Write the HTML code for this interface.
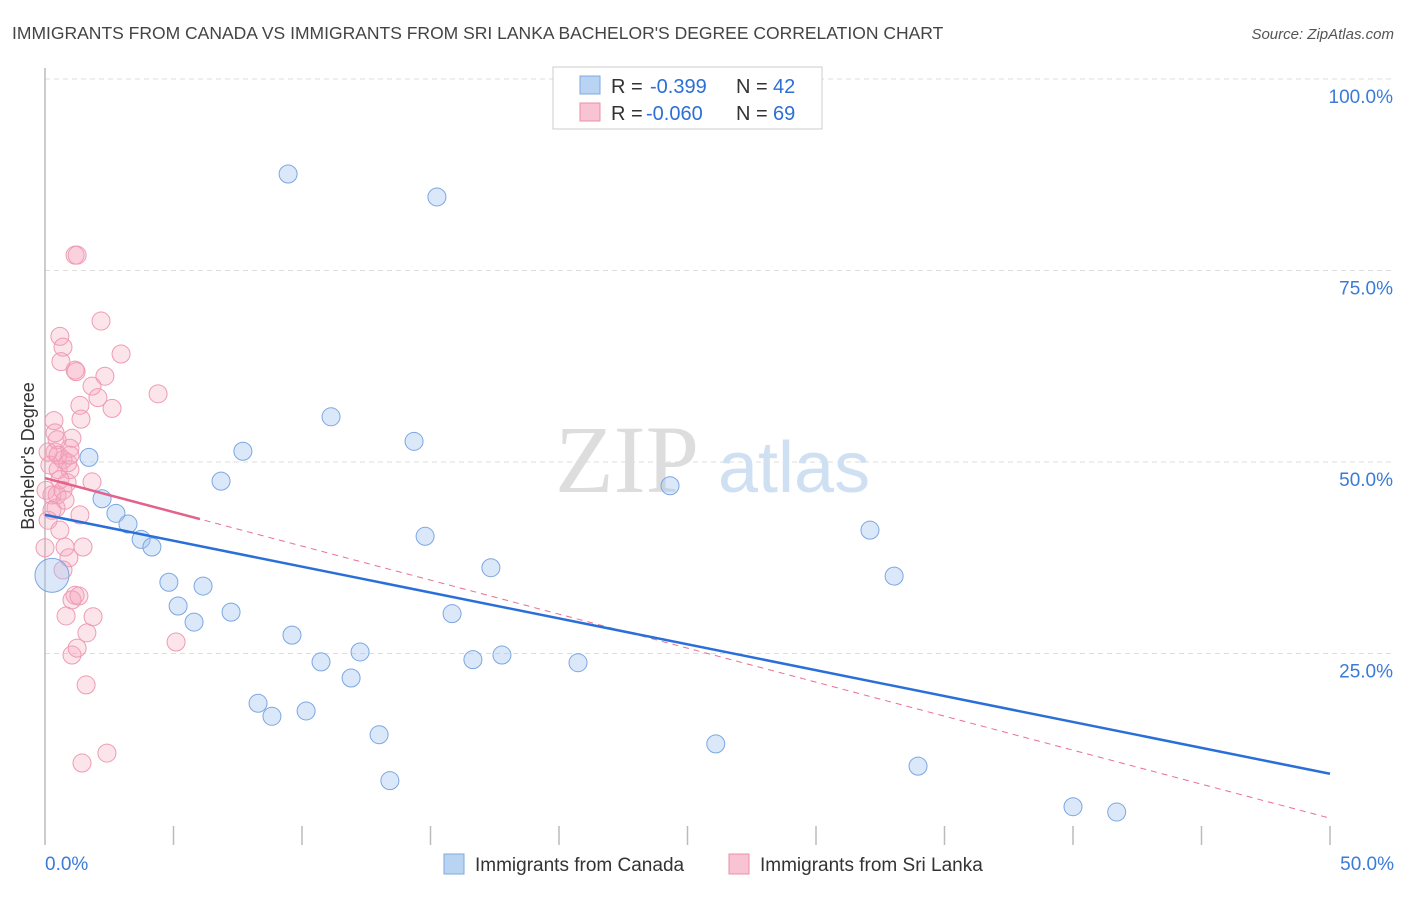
<!DOCTYPE html>
<html><head><meta charset="utf-8"><style>
body{margin:0;background:#fff;font-family:"Liberation Sans",sans-serif;}
</style></head><body>
<svg id="chart" width="1406" height="892" xmlns="http://www.w3.org/2000/svg" font-family="Liberation Sans, sans-serif">
<text x="12" y="39" font-size="17.5" fill="#444">IMMIGRANTS FROM CANADA VS IMMIGRANTS FROM SRI LANKA BACHELOR'S DEGREE CORRELATION CHART</text>
<text x="1394" y="39" font-size="15" fill="#555" font-style="italic" text-anchor="end">Source: ZipAtlas.com</text>
<g id="grid"></g>
<text x="555" y="492" font-size="96" fill="#ddd" font-family="Liberation Serif, serif">ZIP</text>
<text x="718" y="492" font-size="72" fill="#cfe0f3">atlas</text>
<line x1="45" y1="68" x2="45" y2="845" stroke="#bbb" stroke-width="1.5"/>
<text transform="translate(34,456) rotate(-90)" font-size="18" fill="#333" text-anchor="middle">Bachelor's Degree</text>
<g id="pts"></g>
<g id="lines"></g>
<g>
<rect x="553" y="67" width="269" height="62" fill="#fff" stroke="#ccc"/>
<rect x="580" y="76" width="20" height="18" fill="#b9d3f3" stroke="#7fa8de"/>
<rect x="580" y="103" width="20" height="18" fill="#f8c3d3" stroke="#eb8fab"/>
<text x="611" y="93" font-size="20" fill="#333">R =</text>
<text x="650" y="93" font-size="20" fill="#2c6fd6">-0.399</text>
<text x="736" y="93" font-size="20" fill="#333">N =</text>
<text x="773" y="93" font-size="20" fill="#2c6fd6">42</text>
<text x="611" y="120" font-size="20" fill="#333">R =</text>
<text x="646" y="120" font-size="20" fill="#2c6fd6">-0.060</text>
<text x="736" y="120" font-size="20" fill="#333">N =</text>
<text x="773" y="120" font-size="20" fill="#2c6fd6">69</text>
</g>
<g>
<rect x="444" y="854" width="20" height="20" fill="#b9d3f3" stroke="#7fa8de"/>
<text x="475" y="871" font-size="19" fill="#333">Immigrants from Canada</text>
<rect x="729" y="854" width="20" height="20" fill="#f8c3d3" stroke="#eb8fab"/>
<text x="760" y="871" font-size="19" fill="#333">Immigrants from Sri Lanka</text>
</g>
</svg>
<script>
const yTicks=[25,50,75,100];
const yTickLabels=["25.0%","50.0%","75.0%","100.0%"];
const xTickCount=10;
const xLabels=["0.0%","50.0%"];
const canadaX=[9.46,15.25,11.13,14.36,7.70,1.71,6.85,24.32,2.22,2.76,3.23,3.74,4.16,14.79,32.1,17.35,33.04,4.82,6.15,5.18,7.24,5.80,15.84,9.61,12.26,10.74,16.65,17.78,20.74,11.91,8.29,8.83,10.16,13.0,26.1,33.97,13.42,40.0,41.7];
const canadaY=[87.6,84.6,55.9,52.7,51.4,50.6,47.5,46.9,45.2,43.3,41.9,39.9,38.9,40.3,41.1,36.2,35.1,34.3,33.8,31.2,30.4,29.1,30.2,27.4,25.2,23.9,24.2,24.8,23.8,21.8,18.5,16.8,17.5,14.4,13.2,10.3,8.4,5.0,4.3];
const bigX=[0.27], bigY=[35.2];
const lankaX=[1.17,1.25,2.18,0.58,0.70,0.62,1.17,1.21,2.96,2.33,1.83,2.06,2.61,4.40,1.36,1.40,0.35,0.39,1.05,0.97,0.70,0.39,0.19,0.51,0.97,0.86,0.58,1.83,0.43,0.04,0.27,1.36,0.12,0.78,1.48,0.93,0.0,0.70,1.17,1.05,1.32,0.82,1.87,1.63,1.05,1.25,1.60,5.10,2.41,1.44,0.12,0.47,0.89,0.47,0.58,0.70,0.27,0.78,0.51,0.97];
const lankaY=[77.0,77.0,68.4,66.4,65.0,63.1,62.0,61.8,64.1,61.2,59.9,58.4,57.0,58.9,57.4,55.6,55.4,53.8,53.1,51.8,50.3,51.3,49.6,49.0,49.0,47.3,47.7,47.4,44.0,46.3,45.7,43.1,42.4,38.9,38.9,37.5,38.8,35.9,32.6,32.0,32.5,29.9,29.8,27.7,24.8,25.7,20.9,26.5,12.0,10.7,51.3,52.9,49.9,45.7,41.1,46.3,43.7,45.0,50.9,50.9];
const canadaTrend=[43.1,9.3];
const lankaTrend=[47.9,3.5];
const lankaSolidEnd=6.03;
const NS="http://www.w3.org/2000/svg";
const sx=v=>45+v/50*1285, sy=v=>845-v/100*766;
function mk(t,a,p){const e=document.createElementNS(NS,t);for(const k in a)e.setAttribute(k,a[k]);p.appendChild(e);return e;}
const grid=document.getElementById('grid');
yTicks.forEach((t,i)=>{
 const l=mk('line',{x1:45,x2:1394,y1:sy(t),y2:sy(t),stroke:'#ddd','stroke-dasharray':'5,4'},grid);
 
 
 const tx=mk('text',{x:1393,y:sy(t)+24,'font-size':19,fill:'#3b7bd8','text-anchor':'end'},grid);
 tx.textContent=yTickLabels[i];
 
 
});
for(let i=1;i<=xTickCount;i++){
 const l=mk('line',{x1:sx(i*5),x2:sx(i*5),y1:826,y2:845,stroke:'#bbb','stroke-width':1.5},grid);
 
 
}
[[0,'start',45],[1,'end',1394]].forEach(([i,a,x])=>{
 const t=mk('text',{x:x,y:870,'font-size':19,fill:'#3b7bd8','text-anchor':a},grid);
 t.textContent=xLabels[i];
 
 
});
const pts=document.getElementById('pts');
lankaX.forEach((x,i)=>{
 const c=mk('circle',{cx:sx(x),cy:sy(lankaY[i]),r:9,fill:'rgba(245,165,190,0.3)',stroke:'#ee9bb4','stroke-width':1},pts);
 
 
});
canadaX.forEach((x,i)=>{
 const c=mk('circle',{cx:sx(x),cy:sy(canadaY[i]),r:9,fill:'rgba(165,198,240,0.4)',stroke:'#7ba7e2','stroke-width':1},pts);
 
 
});
bigX.forEach((x,i)=>{
 const c=mk('circle',{cx:sx(x),cy:sy(bigY[i]),r:17,fill:'rgba(165,198,240,0.4)',stroke:'#7ba7e2','stroke-width':1},pts);
 
 
});
const lines=document.getElementById('lines');
const ly=x=>lankaTrend[0]+(lankaTrend[1]-lankaTrend[0])*x/50;
let e=mk('line',{x1:sx(0),y1:sy(lankaTrend[0]),x2:sx(50),y2:sy(lankaTrend[1]),stroke:'#e8708f','stroke-width':1,'stroke-dasharray':'6,5'},lines);


e=mk('line',{x1:sx(0),y1:sy(lankaTrend[0]),x2:sx(lankaSolidEnd),y2:sy(ly(lankaSolidEnd)),stroke:'#e3628a','stroke-width':2.5},lines);


e=mk('line',{x1:sx(0),y1:sy(canadaTrend[0]),x2:sx(50),y2:sy(canadaTrend[1]),stroke:'#2a6fd8','stroke-width':2.5},lines);


</script>
</body></html>
